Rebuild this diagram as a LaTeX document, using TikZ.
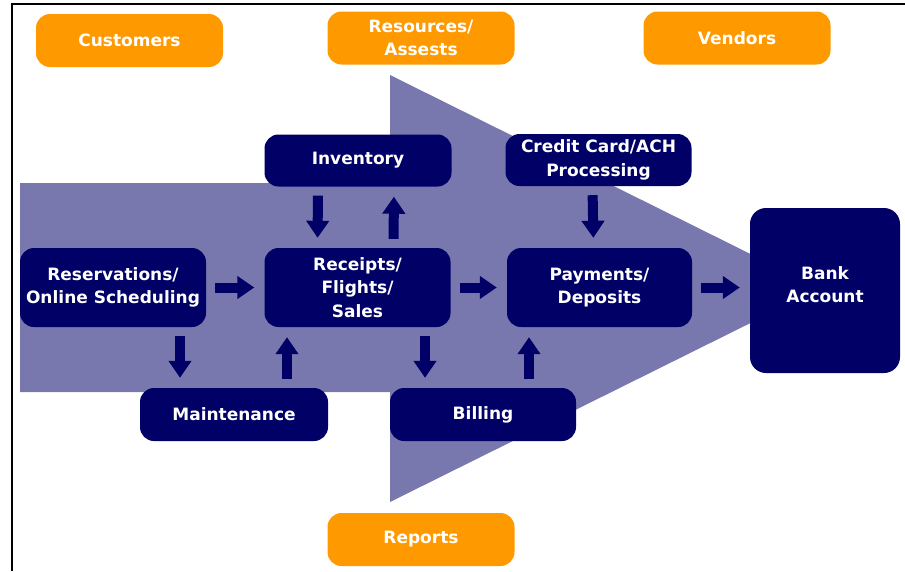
\documentclass[tikz,border=0pt]{standalone}
\usepackage{fontspec}
\setmainfont{DejaVu Sans}
\usetikzlibrary{
    positioning,
    arrows.meta
}
\definecolor{navy}{HTML}{000066}
\definecolor{tangerine}{HTML}{FF9900}
\definecolor{lavender}{HTML}{7878AE}
\tikzset{
  basic/.style = {
      rectangle,
      rounded corners=14pt,
      text=white,
      align=center,
      inner sep=0pt,
      font=\fontsize{17}{23.5}\selectfont\bfseries
  },
  party/.style = {
      basic,
      fill=tangerine,
      minimum width=187pt,
      minimum height=53pt
  },
  task/.style = {
      basic,
      fill=navy,
      minimum width=186pt,
      minimum height=79pt
  },
  small task/.style = {
      task,
      minimum height=52pt
  },
  bank box/.style = {
      task,
      rounded corners=16pt,
      minimum width=150pt,
      minimum height=165pt,
      text depth=12pt
  },
  flow/.style = {
      navy,
      line width=10pt,
      -{Triangle[width=22pt,length=17pt]},
      shorten <=9pt,
      shorten >=10pt
  },
  frame/.style = {
      line width=2pt
  }
}

\begin{document}
\begin{tikzpicture}[x=1pt,y=-1pt]
    \useasboundingbox (0,0) rectangle (905,571);
    % Background arrow
    \fill[lavender] (20,183) -- (390,183) -- (390,75) -- (820,288.5)
        -- (390,502) -- (390,392) -- (20,392) -- cycle;
    \draw[frame] (12,571) -- (12,4) -- (905,4);
    % Outside parties
    \node[party] (cust) at (129.5,40.5) {Customers};
    \node[party] (res) at (421,38) {Resources/\\Assests};
    \node[party] (vend) at (737,38) {Vendors};
    \node[party] (rep) at (421,539.5) {Reports};
    % Tasks
    \node[small task, minimum width=187pt] (inv) at (358,160.5) {Inventory};
    \node[small task] (cc) at (598.5,160) {Credit Card/ACH\\Processing};
    \node[task] (resv) at (113,287.5) {Reservations/\\Online Scheduling};
    \node[task] (rec) at (357.5,287.5) {Receipts/\\Flights/\\Sales};
    \node[task, minimum width=185pt] (pay) at (599.5,287.5) {Payments/\\Deposits};
    \node[bank box] (bank) at (825,290.5) {Bank\\Account};
    \node[small task, minimum width=188pt, minimum height=53pt] (maint) at (234,414.5) {Maintenance};
    \node[small task, minimum height=53pt] (bill) at (483,414.5) {Billing};
    % Flows
    \draw[flow] (resv) -- (rec);
    \draw[flow] (rec) -- (pay);
    \draw[flow] (pay) -- (bank.west |- pay);
    \draw[flow] ([xshift=-40pt]inv.south) -- ([xshift=-40pt]rec.north);
    \draw[flow] ([xshift=36pt]rec.north) -- ([xshift=36pt]inv.south);
    \draw[flow] ([xshift=-6pt]cc.south) -- ([xshift=-6pt]pay.north);
    \draw[flow] ([xshift=67.5pt]rec.south) -- ([xshift=-58pt]bill.north);
    \draw[flow] ([xshift=46pt]bill.north) -- ([xshift=-70.5pt]pay.south);
    \draw[flow] ([xshift=67pt]resv.south) -- ([xshift=-54pt]maint.north);
    \draw[flow] ([xshift=53pt]maint.north) -- ([xshift=-70.5pt]rec.south);
\end{tikzpicture}
\end{document}
